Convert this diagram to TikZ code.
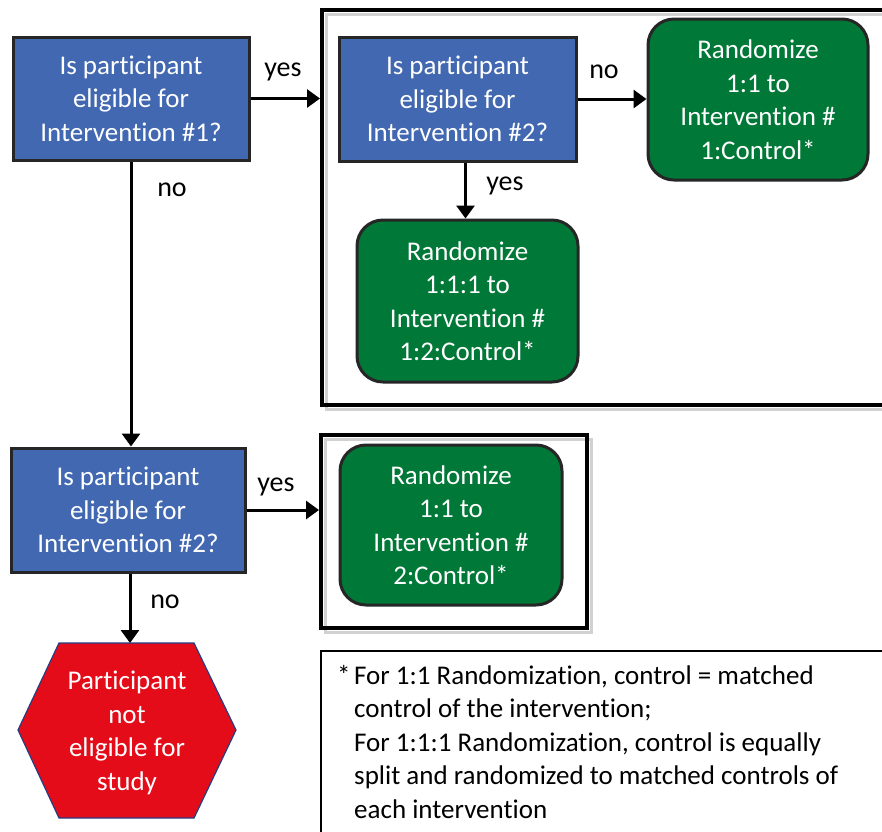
\documentclass[tikz,border=0pt]{standalone}
\usepackage{fontspec}
\setmainfont{Carlito}[Ligatures=NoCommon]
\usetikzlibrary{arrows.meta}
\definecolor{qblue}{RGB}{65,104,176}
\definecolor{qgreen}{RGB}{0,120,55}
\definecolor{qred}{RGB}{227,12,24}
\definecolor{hexedge}{RGB}{40,60,130}
\begin{document}
\begin{tikzpicture}[x=1pt,y=-1pt,
  txt/.style={font=\fontsize{27}{33.5}\selectfont},
  question/.style={txt, draw=black!85, line width=3pt, fill=qblue, text=white, align=center, inner sep=0pt},
  outcome/.style={txt, draw=black!85, line width=3pt, fill=qgreen, text=white, align=center, rounded corners=26pt, inner sep=0pt},
  frame/.style={draw=black, line width=4pt, inner sep=0pt},
  shadowline/.style={draw=black!18, line width=3pt},
  arr/.style={line width=3pt, -{Triangle[length=13pt,width=18pt]}},
  lbl/.style={font=\fontsize{28}{33.5}\selectfont, text=black, inner sep=0pt}]
\useasboundingbox (0,0) rectangle (882,831);
\clip (0,0) rectangle (882,831);
\fill[white] (0,0) rectangle (882,831);

% frames with light shadows
\draw[shadowline] (326,14) rectangle (904,409);
\node[frame, minimum width=578pt, minimum height=395pt] (F1) at (611,207.5) {};
\draw[shadowline] (325,439) rectangle (591,632);
\node[frame, minimum width=266pt, minimum height=193pt] (F2) at (454,531.5) {};

% question boxes
\node[question, minimum width=236pt, minimum height=123pt] (A) at (131,98.5)
  {Is participant\\eligible for\\Intervention \#1?};
\node[question, minimum width=237pt, minimum height=124pt] (B) at (457.5,99)
  {Is participant\\eligible for\\Intervention \#2?};
\node[question, minimum width=234pt, minimum height=124pt] (E) at (128,510)
  {Is participant\\eligible for\\Intervention \#2?};

% outcome boxes
\node[outcome, minimum width=220pt, minimum height=161pt] (C) at (758,99.5)
  {Randomize\\1:1 to\\Intervention \#\\1:Control*};
\node[outcome, minimum width=221pt, minimum height=162pt] (D) at (467.5,301)
  {Randomize\\1:1:1 to\\Intervention \#\\1:2:Control*};
\node[outcome, minimum width=222pt, minimum height=160pt] (G) at (451,525)
  {Randomize\\1:1 to\\Intervention \#\\2:Control*};

% hexagon
\filldraw[fill=qred, draw=hexedge, line width=1.2pt]
  (18,730) -- (59,643) -- (194,643) -- (236,730) -- (194,818) -- (59,818) -- cycle;
\coordinate (Htop) at (127,643);
\node[txt, text=white, align=center, inner sep=0pt] (H) at (127,733)
  {Participant\\not\\eligible for\\study};

% connectors
\draw[arr] (A.east) -- (A.east -| F1.west);
\draw[arr] (B.east) -- (B.east -| C.west);
\draw[arr] ([xshift=8pt]B.south) -- ([xshift=8pt]B.south |- D.north);
\draw[arr] (A.south) -- (A.south |- E.north);
\draw[arr] (E.east) -- (E.east -| F2.west);
\draw[arr] ([xshift=2pt]E.south) -- ([xshift=2pt]E.south |- Htop);

% labels
\node[lbl] (l1) at (283,72) {yes};
\node[lbl] (l2) at (172,190) {no};
\node[lbl] (l3) at (604,72) {no};
\node[lbl] (l4) at (505,186) {yes};
\node[lbl] (l5) at (276,487) {yes};
\node[lbl] (l6) at (165,602) {no};

% note
\node[draw=black, line width=1.5pt, minimum width=600pt, minimum height=220pt, anchor=north west] (N) at (320,650) {};
\node[txt, anchor=north west, align=left, inner sep=0pt] (NT) at (337,665)
  {\makebox[17pt][l]{*}For 1:1 Randomization, control = matched\\
   \hspace*{17pt}control of the intervention;\\
   \hspace*{17pt}For 1:1:1 Randomization, control is equally\\
   \hspace*{17pt}split and randomized to matched controls of\\
   \hspace*{17pt}each intervention};
\end{tikzpicture}
\end{document}
